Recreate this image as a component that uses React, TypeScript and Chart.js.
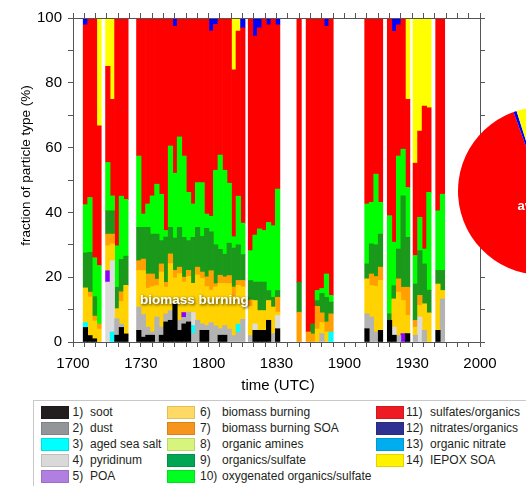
import React, { useEffect, useRef } from 'react';
import { Chart, registerables } from 'chart.js';
Chart.register(...registerables);

const FONT = "'Liberation Sans', Arial, Helvetica, sans-serif";

// bar centres, minutes after 17:00 UTC
const times = [
  5.5, 7.5, 9.5, 11.5,
  15.4, 17.4, 19.4, 21.4, 23.4,
  29.1, 31.1, 33.1, 35.1, 37.1, 39.1, 41.1, 43.1, 45.1, 47.1, 49.1, 51.1,
  53.1, 55.1, 57.1, 59.1, 61.1, 63.1, 65.1, 67.1, 69.1, 71.1, 73.1, 75.1,
  78.5, 80.5, 82.5, 84.5, 86.5, 88.5, 90.5,
  100, 104.1, 106.1, 108.1, 110.1, 112.1, 114.1,
  130, 132, 134, 136,
  140, 142, 144, 146, 148,
  151.4, 153.4, 155.4, 157.4,
  161.4, 163.4,
];

const xTickLabels = ['1700', '1730', '1800', '1830', '1900', '1930', '2000'];

const seriesNames = [
  'soot', 'dust', 'aged sea salt', 'pyridinum', 'POA',
  'biomass burning', 'biomass burning SOA', 'organic amines', 'organics/sulfate', 'oxygenated organics/sulfate',
  'sulfates/organics', 'nitrates/organics', 'organic nitrate', 'IEPOX SOA',
];

const soot = [
  4.5, 2, 1, 0, 0, 0, 2.1, 4.5, 2.5, 3.6,
  1.5, 2.1, 2.1, 0, 2.1, 6.2, 6.7, 11.8, 3.6, 5.6,
  6.2, 0, 0, 3.6, 3.6, 0, 0, 2.1, 2.1, 0,
  0, 0, 0, 0, 3.6, 3.6, 3.6, 6.7, 0, 4.1,
  0, 0, 0, 0, 0, 0, 0, 4.1, 0, 0,
  3.6, 6.7, 2.1, 0, 0, 2.6, 0, 0, 0, 0,
  3.6, 0,
];
const dust = [
  0, 0, 0, 0, 0, 0, 5.1, 1, 0, 7.2,
  7, 2.5, 1, 7.7, 2.5, 2.5, 3, 0, 3.1, 2,
  3, 2.6, 6.7, 2, 1.5, 6, 5, 2, 3, 4,
  2, 3, 7, 2, 0, 0, 0, 0, 2.6, 0,
  0, 0, 0, 0, 2.6, 0, 0, 4.6, 7.7, 3.1,
  0, 0, 0, 2, 0, 0, 2.1, 0, 3.6, 0,
  0, 13.3,
];
const agedSeaSalt = [
  1.5, 0, 0, 0, 0, 3.1, 0, 0, 0, 0,
  0, 0, 0, 0, 0, 0, 0, 0, 0, 0,
  0, 2.5, 0, 0, 0, 0, 0, 0, 0, 0,
  0, 2.5, 0, 0, 0, 0, 0, 0, 0, 0,
  0, 0, 0, 0, 0, 0, 3.1, 0, 0, 0,
  0, 0, 0, 0, 0, 0, 0, 0, 0, 0,
  0, 0,
];
const pyridinum = [
  0, 0, 0, 0, 18.5, 22, 0, 0, 0, 0,
  0, 0, 0, 0, 0, 0, 0, 0, 0, 0,
  0, 4, 0, 0, 0, 0, 0, 0, 0, 0,
  0, 0, 0, 0, 2, 0, 0, 0, 0, 4.1,
  0, 0, 0, 0, 0, 0, 0, 0, 0, 0,
  0, 0, 2.5, 0, 0, 0, 0, 7.7, 0, 0,
  0, 0,
];
const poa = [
  0, 0, 0, 0, 3.5, 0, 0, 0, 0, 0,
  0, 0, 0, 0, 0, 0, 0, 0, 0, 1.5,
  0, 0, 0, 0, 0, 0, 0, 0, 0, 0,
  0, 0, 0, 0, 0, 0, 0, 0, 0, 0,
  0, 0, 0, 0, 0, 0, 0, 0, 0, 0,
  0, 0, 0, 0, 2.6, 0, 0, 0, 0, 0,
  0, 0,
];
const biomassBurning = [
  10.7, 11.9, 5.5, 4, 7.7, 5.2, 3.1, 7, 15, 11.3,
  13.5, 12, 14, 9.7, 17, 8.2, 14.5, 8, 14.4, 9.4,
  11, 9, 14, 14, 12, 10, 12, 14, 13, 14,
  12, 12, 10, 9, 7.2, 6.1, 6.1, 6.1, 8.2, 1,
  0, 0, 0, 4, 3.4, 3.1, 0, 10.8, 9.7, 14.1,
  15.4, 0, 8.7, 13.4, 10.2, 5.6, 2.5, 3.6, 8.2, 9,
  14.3, 2.6,
];
const biomassBurningSoa = [
  0, 1.5, 1.5, 1.6, 3.6, 3, 0, 3, 0, 3,
  3.6, 4.4, 3.9, 2, 2.5, 1.5, 3, 2.3, 2, 1.5,
  1.9, 0, 2.4, 2, 3, 6, 1, 2.5, 2, 2.5,
  3, 1.5, 2, 2, 0, 0, 0, 0, 0, 4.6,
  9.2, 3.1, 2.5, 7, 3, 3.1, 5.6, 0, 3.6, 3,
  4.1, 0, 0, 4.1, 4.1, 8.7, 2.1, 3.1, 0, 0,
  0, 0,
];
const organicAmines = [
  0, 0, 0, 0, 0, 0, 0, 0, 0, 0,
  0, 0, 0, 0, 0, 0, 0, 0, 0, 0,
  0, 0, 0, 0, 0, 0, 0, 0, 0, 0,
  0, 0, 0, 0, 0, 0, 0, 0, 0, 0,
  0, 0, 0, 0, 0, 0, 0, 0, 0, 0,
  0, 0, 0, 0, 0, 0, 0, 0, 0, 0,
  0, 0,
];
const organicsSulfate = [
  10.8, 12.3, 6, 0, 7.2, 7.2, 6.6, 10, 9, 10.3,
  9.8, 14.4, 12.3, 13.9, 7.2, 14, 8.2, 10, 12.3, 12.3,
  9.2, 14.2, 12.3, 11, 15, 12, 12, 8, 7, 10,
  12, 11, 8, 6, 5.7, 8.8, 8.8, 3.1, 3, 2.1,
  9.3, 0, 3.1, 1.8, 6, 7.6, 3.6, 4.6, 9.3, 9.8,
  10.2, 2, 4.1, 9.2, 28.2, 15.4, 11.2, 13.8, 12.3, 7,
  4.2, 6.2,
];
const oxygenatedOrganics = [
  14.9, 16.9, 12, 18, 14.9, 4.6, 12.8, 19.5, 17.5, 22,
  4.1, 7.2, 11.8, 15.4, 14.3, 2, 25.1, 20, 27.9, 25.1,
  14.9, 10.3, 13.8, 16.6, 4.4, 4.8, 23, 29.1, 25.9, 18.5,
  3.5, 15, 9.7, 9.2, 14.5, 16.4, 15.9, 21, 22.1, 31.3,
  0, 0, 0, 3.1, 1.5, 7.2, 2.1, 18.5, 12.8, 21.8,
  9.8, 30.3, 13.4, 28.7, 14.4, 15.4, 8.8, 10.3, 4.6, 30.2,
  18.4, 23.5,
];
const sulfatesOrganics = [
  55.5, 55.4, 74, 43.1, 29.7, 29.8, 70.3, 55, 56, 42.6,
  60.5, 57.4, 54.9, 51.3, 54.4, 65.6, 39.5, 45.3, 36.7, 42.6,
  53.8, 57.4, 50.8, 50.8, 60.5, 57.2, 45, 42.3, 47, 51,
  51.5, 51, 60.3, 71.8, 61.4, 62.1, 65.6, 61, 64.1, 50.7,
  81.5, 96.9, 94.4, 84.1, 83.5, 76.4, 85.6, 57.4, 56.9, 48.2,
  56.9, 61, 65.1, 40.5, 40.5, 27.2, 28.5, 26.6, 44.1, 26.1,
  59.5, 54.4,
];
const nitratesOrganics = [
  2.1, 0, 0, 0, 0, 0, 0, 0, 0, 0,
  0, 0, 0, 0, 0, 0, 0, 2.6, 0, 0,
  0, 0, 0, 0, 0, 4, 2, 0, 0, 0,
  0, 0, 3, 0, 5.6, 3, 0, 2.1, 0, 2.1,
  0, 0, 0, 0, 0, 2.6, 0, 0, 0, 0,
  0, 0, 4.1, 2.1, 0, 0, 0, 0, 0, 0,
  0, 0,
];
const organicNitrate = [
  0, 0, 0, 0, 0, 0, 0, 0, 0, 0,
  0, 0, 0, 0, 0, 0, 0, 0, 0, 0,
  0, 0, 0, 0, 0, 0, 0, 0, 0, 0,
  0, 0, 0, 0, 0, 0, 0, 0, 0, 0,
  0, 0, 0, 0, 0, 0, 0, 0, 0, 0,
  0, 0, 0, 0, 0, 0, 0, 0, 0, 0,
  0, 0,
];
const iepoxSoa = [
  0, 0, 0, 33.3, 14.9, 25.1, 0, 0, 0, 0,
  0, 0, 0, 0, 0, 0, 0, 0, 0, 0,
  0, 0, 0, 0, 0, 0, 0, 0, 0, 0,
  16, 4, 0, 0, 0, 0, 0, 0, 0, 0,
  0, 0, 0, 0, 0, 0, 0, 0, 0, 0,
  0, 0, 0, 0, 0, 25.1, 44.8, 34.9, 27.2, 27.7,
  0, 0,
];

// average composition shown in the pie (%)
const averageValues = [2.5, 2.5, 0.3, 1.2, 0.1, 8.5, 2.3, 0, 9, 14.5, 53.6, 0.6, 0, 4.9];

const seriesValues = [
  soot, dust, agedSeaSalt, pyridinum, poa, biomassBurning, biomassBurningSoa,
  organicAmines, organicsSulfate, oxygenatedOrganics, sulfatesOrganics,
  nitratesOrganics, organicNitrate, iepoxSoa,
];

const barColors = [
  '#000000', '#b3b3b3', '#00ffff', '#dcdcdc', '#8c00ff', '#ffd200', '#ffa000',
  '#ccff66', '#1a991a', '#00ff00', '#ff0000', '#0000ff', '#00a0ff', '#ffff00',
];
const legendColors = [
  '#231f20', '#939598', '#00ffff', '#d9d9d9', '#b07fe0', '#ffd966', '#f7941d',
  '#d7f57c', '#00a651', '#00ff21', '#ed1c24', '#2e3192', '#00aeef', '#fff200',
];

const annotationText = 'biomass burning';
const annotationTime = 53.7;
const annotationValue = 13;

const AXIS = '#555555';
const W = 526;
const H = 398;

export default function App() {
  const mainRef = useRef<HTMLCanvasElement>(null);
  const pieRef = useRef<HTMLCanvasElement>(null);

  useEffect(() => {
    const datasets = seriesValues.map((vals, si) => ({
      label: seriesNames[si],
      data: times.map((t, i) => ({ x: t, y: vals[i] === 0 ? null : vals[i] })),
      backgroundColor: barColors[si],
      borderWidth: 0,
      barPercentage: 1,
      categoryPercentage: 1,
    }));

    const textPlugin = {
      id: 'texts',
      afterDatasetsDraw(chart: any) {
        const ctx = chart.ctx;
        const xs = chart.scales.x;
        const ys = chart.scales.y;
        ctx.save();
        ctx.font = `bold 13.5px ${FONT}`;
        ctx.textAlign = 'center';
        ctx.textBaseline = 'middle';
        ctx.shadowColor = 'rgba(0,0,0,0.8)';
        ctx.shadowBlur = 3;
        ctx.shadowOffsetX = 1;
        ctx.shadowOffsetY = 1;
        ctx.fillStyle = '#ffffff';
        ctx.fillText(annotationText, xs.getPixelForValue(annotationTime), ys.getPixelForValue(annotationValue));
        ctx.restore();
      },
      afterDraw(chart: any) {
        const ctx = chart.ctx;
        ctx.save();
        ctx.fillStyle = '#000';
        ctx.textAlign = 'center';
        ctx.textBaseline = 'middle';
        ctx.font = `13.5px ${FONT}`;
        ctx.translate(26, 165.5);
        ctx.rotate(-Math.PI / 2);
        ctx.fillText('fraction of particle type (%)', 0, 0);
        ctx.restore();
        ctx.save();
        ctx.fillStyle = '#000';
        ctx.textAlign = 'center';
        ctx.textBaseline = 'middle';
        ctx.font = `15px ${FONT}`;
        ctx.fillText('time (UTC)', 278, 386);
        ctx.restore();
      },
    };

    const gridOpts = { display: true, drawOnChartArea: false, drawTicks: true, tickLength: 5, color: AXIS, tickColor: AXIS, offset: false };
    const borderOpts = { display: true, color: AXIS, width: 1, z: 1 };

    const main = new Chart(mainRef.current as HTMLCanvasElement, {
      type: 'bar',
      data: { datasets: datasets as any },
      options: {
        responsive: false,
        animation: false,
        layout: { padding: 0 },
        plugins: { legend: { display: false }, tooltip: { enabled: false } },
        scales: {
          x: {
            type: 'linear', position: 'bottom', min: 0, max: 180, stacked: true, offset: false,
            grid: gridOpts, border: borderOpts,
            ticks: {
              stepSize: 5, autoSkip: false, maxRotation: 0, minRotation: 0, padding: 8, color: '#000',
              font: { family: FONT, size: 15 },
              callback: (v: any) => (Number(v) % 30 === 0 ? xTickLabels[Number(v) / 30] : ''),
            },
            afterFit: (s: any) => { s.height = H - 342; },
          },
          xTop: {
            type: 'linear', position: 'top', min: 0, max: 180, offset: false,
            grid: gridOpts, border: borderOpts,
            ticks: { display: false, stepSize: 5 },
            afterFit: (s: any) => { s.height = 18; },
          },
          y: {
            type: 'linear', position: 'left', min: 0, max: 100, stacked: true,
            grid: gridOpts, border: borderOpts,
            ticks: {
              stepSize: 10, padding: 6, color: '#000', font: { family: FONT, size: 15 },
              callback: (v: any) => (Number(v) % 20 === 0 ? String(v) : ''),
            },
            afterFit: (s: any) => { s.width = 73; },
          },
          yRight: {
            type: 'linear', position: 'right', min: 0, max: 100,
            grid: gridOpts, border: borderOpts,
            ticks: { display: false, stepSize: 10 },
            afterFit: (s: any) => { s.width = W - 480; },
          },
        } as any,
      },
      plugins: [textPlugin],
    });

    const piePlugin = {
      id: 'pieText',
      afterDatasetsDraw(chart: any) {
        const ctx = chart.ctx;
        const a = chart.chartArea;
        ctx.save();
        ctx.font = `bold 13px ${FONT}`;
        ctx.fillStyle = '#ffffff';
        ctx.textAlign = 'center';
        ctx.textBaseline = 'middle';
        ctx.fillText('average', (a.left + a.right) / 2, (a.top + a.bottom) / 2 + 15);
        ctx.restore();
      },
    };

    const pie = new Chart(pieRef.current as HTMLCanvasElement, {
      type: 'pie',
      data: {
        labels: seriesNames,
        datasets: [{ data: averageValues, backgroundColor: barColors, borderWidth: 0 }],
      },
      options: {
        responsive: false,
        animation: false,
        layout: { padding: 4 },
        plugins: { legend: { display: false }, tooltip: { enabled: false } },
      },
      plugins: [piePlugin],
    });

    return () => {
      main.destroy();
      pie.destroy();
    };
  }, []);

  const swatchLeft = [41, 166.5, 375.5];
  const numLeft = [72.5, 200, 406];
  const labelLeft = [90, 222, 430];

  return (
    <div style={{ position: 'absolute', left: 0, top: 0, width: 526, height: 486, overflow: 'hidden', background: '#fff', fontFamily: FONT }}>
      <canvas ref={mainRef} width={W} height={H} style={{ position: 'absolute', left: 0, top: 0 }} />
      <canvas ref={pieRef} width={176} height={176} style={{ position: 'absolute', left: 454, top: 103 }} />
      <div style={{ position: 'absolute', left: 33, top: 400, width: 600, height: 120, border: '1px solid #c8c8c8', boxSizing: 'border-box' }} />
      {seriesNames.map((name, i) => {
        const col = Math.floor(i / 5);
        const row = i % 5;
        const top = 405.5 + row * 16.1;
        const textStyle: React.CSSProperties = {
          position: 'absolute', top, height: 13, lineHeight: '13px', fontSize: 12, color: '#231f20', whiteSpace: 'nowrap',
        };
        return (
          <React.Fragment key={name}>
            <div style={{ position: 'absolute', left: swatchLeft[col], top, width: 28, height: 13, background: legendColors[i], border: '1px solid rgba(0,0,0,0.12)', boxSizing: 'border-box' }} />
            <div style={{ ...textStyle, left: numLeft[col] }}>{`${i + 1})`}</div>
            <div style={{ ...textStyle, left: labelLeft[col] }}>{name}</div>
          </React.Fragment>
        );
      })}
    </div>
  );
}
